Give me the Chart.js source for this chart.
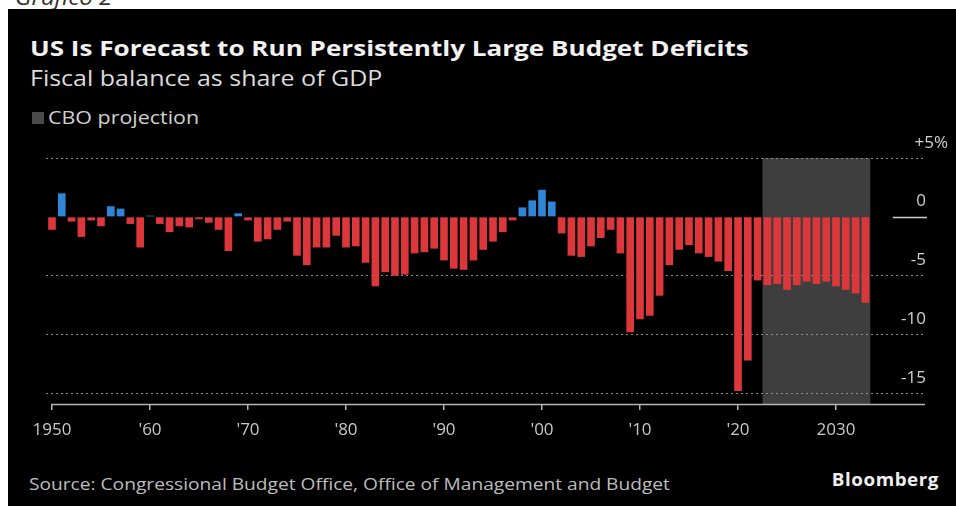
<!DOCTYPE html>
<html>
<head>
<meta charset="utf-8">
<script src="https://cdn.jsdelivr.net/npm/chart.js@4.4.0/dist/chart.umd.min.js"></script>
<style>
  html, body { margin: 0; padding: 0; background: #fff; width: 956px; height: 506px; overflow: hidden; }
  #panel { position: absolute; left: 8px; top: 9px; right: 0; bottom: 0; background: #000; }
  .t { position: absolute; white-space: nowrap; font-family: "Open Sans", sans-serif; transform-origin: left center; }
  #kicker { left: 15px; top: -13px; font-size: 21px; line-height: 21px; font-style: italic; color: #333; transform: scaleX(1.15); }
  #title { left: 30px; top: 35.5px; font-size: 22px; line-height: 22px; font-weight: 700; color: #f2f2f2; transform: scaleX(1.185); }
  #subtitle { left: 30px; top: 68.4px; font-size: 21px; line-height: 21px; color: #dcdcdc; transform: scaleX(1.19); }
  #swatch { position: absolute; left: 32px; top: 112px; width: 12px; height: 12px; background: #4a4a4a; }
  #legend { left: 48px; top: 108px; font-size: 18px; line-height: 18px; color: #d0d0d0; transform: scaleX(1.19); }
  #source { left: 29px; top: 475.4px; font-size: 17px; line-height: 17px; color: #bdbdbd; transform: scaleX(1.127); }
  #brand { right: 17px; top: 471px; font-size: 17px; line-height: 17px; font-weight: 700; color: #f0f0f0; letter-spacing: 0.5px; transform-origin: right center; transform: scaleX(1.105); }
  #chart { position: absolute; left: 0; top: 0; }
</style>
</head>
<body>
<div class="t" id="kicker">Grafico 2</div>
<div id="panel"></div>
<div class="t" id="title">US Is Forecast to Run Persistently Large Budget Deficits</div>
<div class="t" id="subtitle">Fiscal balance as share of GDP</div>
<div id="swatch"></div>
<div class="t" id="legend">CBO projection</div>
<div class="t" id="source">Source: Congressional Budget Office, Office of Management and Budget</div>
<div class="t" id="brand">Bloomberg</div>
<canvas id="chart" width="956" height="506"></canvas>
<script>
// Fiscal years shown
const years = [];
for (let y = 1950; y <= 2033; y++) years.push(y);

// Surplus (+) / deficit (-) as % of GDP, 1950-2033
const balance = [
  -1.1, 2.0, -0.4, -1.7, -0.3, -0.8, 0.9, 0.7, -0.6, -2.6,   // 1950s
  0.1, -0.6, -1.3, -0.8, -0.9, -0.2, -0.5, -1.1, -2.9, 0.3,  // 1960s
  -0.3, -2.1, -1.9, -1.1, -0.4, -3.3, -4.1, -2.6, -2.6, -1.6, // 1970s
  -2.6, -2.5, -3.9, -5.9, -4.7, -5.0, -4.9, -3.1, -3.0, -2.7, // 1980s
  -3.7, -4.4, -4.5, -3.7, -2.8, -2.1, -1.3, -0.3, 0.8, 1.4,   // 1990s
  2.3, 1.3, -1.4, -3.3, -3.4, -2.5, -1.8, -1.1, -3.1, -9.8,   // 2000s
  -8.7, -8.4, -6.7, -4.1, -2.8, -2.4, -3.1, -3.4, -3.8, -4.6, // 2010s
  -14.8, -12.2, -5.4, -5.8, -5.7, -6.2, -5.8, -5.5, -5.7, -5.5, // 2020s
  -5.9, -6.2, -6.5, -7.3                                       // 2030-2033
];

// CBO projection window (fiscal years)
const projectionFirst = 2023;
const projectionLast = 2033;

// Axis ticks
const xTickYears = [1950, 1960, 1970, 1980, 1990, 2000, 2010, 2020, 2030];
const xTickLabels = ['1950', "'60", "'70", "'80", "'90", "'00", "'10", "'20", '2030'];
const yTickValues = [5, 0, -5, -10, -15];
const yTickLabels = ['+5%', '0', '-5', '-10', '-15'];

const RED = '#dc383b';
const BLUE = '#2f86d6';
const FONT = '"Open Sans", sans-serif';

const projectionShade = {
  id: 'projectionShade',
  beforeDraw(chart) {
    const { ctx, chartArea, scales } = chart;
    const x0 = scales.x.getPixelForValue(projectionFirst - 0.5);
    const x1 = scales.x.getPixelForValue(projectionLast + 0.5);
    ctx.save();
    ctx.fillStyle = '#3e3e3e';
    ctx.fillRect(x0, chartArea.top, x1 - x0, chartArea.bottom - chartArea.top);
    ctx.restore();
  }
};

const axisDecor = {
  id: 'axisDecor',
  afterDraw(chart) {
    const { ctx, chartArea, scales } = chart;
    const xs = scales.x, ys = scales.y;
    ctx.save();
    // x-axis baseline
    ctx.strokeStyle = '#b4b4b4';
    ctx.lineWidth = 1.5;
    ctx.beginPath();
    ctx.moveTo(xs.getPixelForValue(1949.9), chartArea.bottom + 0.5);
    ctx.lineTo(chartArea.right, chartArea.bottom + 0.5);
    ctx.stroke();
    // short zero marker beside the last bars
    const y0 = Math.round(ys.getPixelForValue(0)) + 0.5;
    ctx.strokeStyle = '#d0d0d0';
    ctx.beginPath();
    ctx.moveTo(xs.getPixelForValue(2035.8), y0);
    ctx.lineTo(chartArea.right + 2, y0);
    ctx.stroke();
    // y-axis labels sitting just above their grid lines
    ctx.font = '17px ' + FONT;
    ctx.fillStyle = '#cfcfcf';
    ctx.textBaseline = 'alphabetic';
    ctx.textAlign = 'right';
    yTickValues.forEach((v, i) => {
      const y = ys.getPixelForValue(v) - 10.5;
      const xr = v === 5 ? 948 : 926;
      ctx.fillText(yTickLabels[i], xr, y);
    });
    ctx.restore();
  }
};

new Chart(document.getElementById('chart'), {
  type: 'bar',
  data: {
    datasets: [{
      data: years.map((y, i) => ({ x: y, y: balance[i] })),
      backgroundColor: ctx => (ctx.raw && ctx.raw.y >= 0 ? BLUE : RED),
      borderWidth: 0,
      barPercentage: 0.78,
      categoryPercentage: 1.0
    }]
  },
  options: {
    responsive: false,
    animation: false,
    devicePixelRatio: 1,
    layout: { padding: { left: 46, right: 31, top: 158, bottom: 62 } },
    plugins: { legend: { display: false }, tooltip: { enabled: false } },
    scales: {
      x: {
        type: 'linear',
        offset: false,
        min: 1949.39,
        max: 2039.08,
        afterBuildTicks: s => { s.ticks = xTickYears.map(v => ({ value: v })); },
        afterFit: s => { s.height = 40; },
        grid: { offset: false, drawOnChartArea: false, drawTicks: true, tickLength: 6, color: '#b4b4b4', lineWidth: 1.5 },
        border: { display: false },
        ticks: {
          color: '#c8c8c8',
          font: { family: FONT, size: 17 },
          padding: 10,
          maxRotation: 0,
          autoSkip: false,
          callback: v => xTickLabels[xTickYears.indexOf(v)] ?? ''
        }
      },
      y: {
        position: 'right',
        min: -15.9,
        max: 5,
        afterBuildTicks: s => { s.ticks = yTickValues.map(v => ({ value: v })); },
        afterFit: s => { s.width = 0; },
        ticks: { display: false },
        grid: {
          drawTicks: false,
          lineWidth: 1,
          color: c => (c.tick && c.tick.value === 0 ? 'rgba(0,0,0,0)' : '#8c8c8c')
        },
        border: { display: false, dash: [2, 3] }
      }
    }
  },
  plugins: [projectionShade, axisDecor]
});
</script>
</body>
</html>
